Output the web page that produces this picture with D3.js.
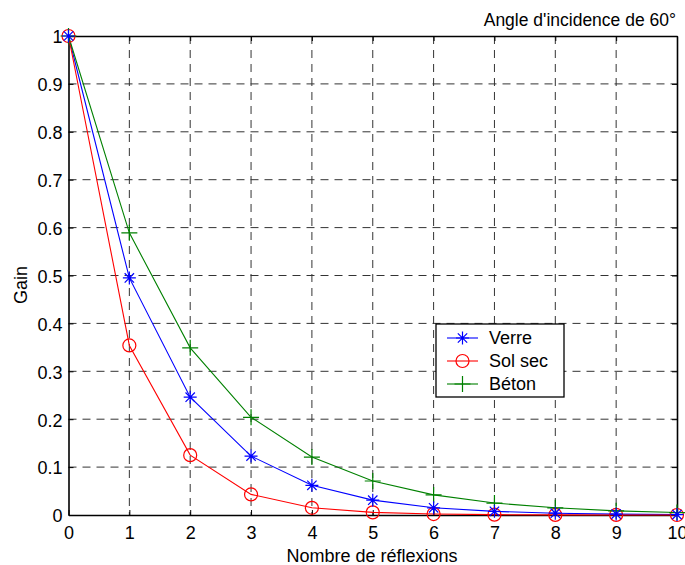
<!DOCTYPE html>
<html>
<head>
<meta charset="utf-8">
<script src="https://cdn.jsdelivr.net/npm/d3@7"></script>
<style>
  html, body { margin: 0; padding: 0; background: #fff; }
  svg { display: block; font-family: Arial, "Liberation Sans", Helvetica, sans-serif; }
</style>
</head>
<body>
<svg id="chart" width="685" height="565"></svg>
<script>
// Number of reflections
const reflections = [0, 1, 2, 3, 4, 5, 6, 7, 8, 9, 10];
// Gain after each reflection, per surface material
const verre  = [1, 0.495, 0.246, 0.123, 0.062, 0.031, 0.015, 0.0076, 0.0038, 0.0019, 0.0009];
const solSec = [1, 0.354, 0.125, 0.043, 0.015, 0.0055, 0.002, 0.0007, 0.0002, 0.0001, 0.00003];
const beton  = [1, 0.589, 0.349, 0.204, 0.121, 0.071, 0.042, 0.025, 0.015, 0.0087, 0.0051];
const seriesNames = ["Verre", "Sol sec", "Béton"];
const xTicks = [0, 1, 2, 3, 4, 5, 6, 7, 8, 9, 10];
const yTicks = [0, 0.1, 0.2, 0.3, 0.4, 0.5, 0.6, 0.7, 0.8, 0.9, 1];

const series = [
  { name: seriesNames[0], values: verre,  color: "#0000ff", marker: "star" },
  { name: seriesNames[1], values: solSec, color: "#ff0000", marker: "circle" },
  { name: seriesNames[2], values: beton,  color: "#008000", marker: "plus" }
];

const svg = d3.select("#chart");
const plotLeft = 68.5, plotRight = 677, plotTop = 36, plotBottom = 515;
const fontFamily = "Arial, 'Liberation Sans', sans-serif";

const x = d3.scaleLinear().domain([0, 10]).range([plotLeft, plotRight]);
const y = d3.scaleLinear().domain([0, 1]).range([plotBottom, plotTop]);

// Dashed grid
const grid = svg.append("g");
grid.selectAll("line.v").data(xTicks.slice(1, -1)).join("line")
  .attr("x1", d => x(d)).attr("x2", d => x(d))
  .attr("y1", plotTop).attr("y2", plotBottom)
  .attr("stroke", "#333").attr("stroke-width", 1).attr("stroke-dasharray", "8,6");
grid.selectAll("line.h").data(yTicks.slice(1, -1)).join("line")
  .attr("y1", d => y(d)).attr("y2", d => y(d))
  .attr("x1", plotLeft).attr("x2", plotRight)
  .attr("stroke", "#333").attr("stroke-width", 1).attr("stroke-dasharray", "8,6");

// Axes (ticks pointing inward)
const fmt = d => d === 0 || d === 1 ? String(d) : d3.format(".1f")(d);
const xAxis = svg.append("g").attr("transform", `translate(0,${plotBottom})`)
  .call(d3.axisBottom(x).tickValues(xTicks).tickSizeInner(-5).tickSizeOuter(0).tickPadding(11).tickFormat(d3.format("d")));
const xAxisTop = svg.append("g").attr("transform", `translate(0,${plotTop})`)
  .call(d3.axisTop(x).tickValues(xTicks).tickSizeInner(-5).tickSizeOuter(0).tickFormat(""));
const yAxis = svg.append("g").attr("transform", `translate(${plotLeft},0)`)
  .call(d3.axisLeft(y).tickValues(yTicks).tickSizeInner(-5).tickSizeOuter(0).tickPadding(6).tickFormat(fmt));
const yAxisRight = svg.append("g").attr("transform", `translate(${plotRight},0)`)
  .call(d3.axisRight(y).tickValues(yTicks).tickSizeInner(-5).tickSizeOuter(0).tickFormat(""));

[xAxis, xAxisTop, yAxis, yAxisRight].forEach(g => {
  g.select(".domain").attr("stroke", "#000").attr("stroke-width", 1.6);
  g.selectAll(".tick line").attr("stroke", "#000");
  g.selectAll("text").attr("font-size", 18).attr("fill", "#000")
    .attr("font-family", fontFamily);
});
yAxis.selectAll("text").attr("dy", "0.38em");

// Lines
const line = d3.line().x((d, i) => x(reflections[i])).y(d => y(d));
series.forEach(s => {
  svg.append("path").datum(s.values)
    .attr("d", line).attr("fill", "none")
    .attr("stroke", s.color).attr("stroke-width", 1.1);
});

// Markers
function drawMarker(g, type, color, cx, cy) {
  if (type === "circle") {
    g.append("circle").attr("cx", cx).attr("cy", cy).attr("r", 6.5)
      .attr("fill", "none").attr("stroke", color).attr("stroke-width", 1.2);
  } else if (type === "plus") {
    const r = 8;
    g.append("path").attr("d", `M${cx - r},${cy}H${cx + r}M${cx},${cy - r}V${cy + r}`)
      .attr("stroke", color).attr("stroke-width", 1.2).attr("fill", "none");
  } else {
    const r = 6.5, d = r * 0.72;
    g.append("path")
      .attr("d", `M${cx - r},${cy}H${cx + r}M${cx},${cy - r}V${cy + r}M${cx - d},${cy - d}L${cx + d},${cy + d}M${cx - d},${cy + d}L${cx + d},${cy - d}`)
      .attr("stroke", color).attr("stroke-width", 1.2).attr("fill", "none");
  }
}
// Draw order: circles first, then plus, then stars on top
[series[1], series[2], series[0]].forEach(s => {
  const g = svg.append("g");
  s.values.forEach((v, i) => drawMarker(g, s.marker, s.color, x(reflections[i]), y(v)));
});

// Legend
const lg = svg.append("g").attr("font-family", fontFamily);
lg.append("rect").attr("x", 436).attr("y", 324).attr("width", 128).attr("height", 73)
  .attr("fill", "#fff").attr("stroke", "#000").attr("stroke-width", 1.3);
series.forEach((s, i) => {
  const cy = 338 + i * 23;
  lg.append("line").attr("x1", 447).attr("x2", 478).attr("y1", cy).attr("y2", cy)
    .attr("stroke", s.color).attr("stroke-width", 1.1);
  drawMarker(lg, s.marker, s.color, 462.5, cy);
  lg.append("text").attr("x", 489).attr("y", cy).attr("dy", "0.36em")
    .attr("font-size", 18).text(s.name);
});

// Titles and axis labels
svg.append("text").attr("x", 676).attr("y", 25.5).attr("text-anchor", "end")
  .attr("font-family", fontFamily).attr("font-size", 17.5).text("Angle d'incidence de 60°");
svg.append("text").attr("x", 372).attr("y", 562).attr("text-anchor", "middle")
  .attr("font-family", fontFamily).attr("font-size", 18).text("Nombre de réflexions");
svg.append("text").attr("transform", "translate(27,285) rotate(-90)").attr("text-anchor", "middle")
  .attr("font-family", fontFamily).attr("font-size", 18).text("Gain");
</script>
</body>
</html>
